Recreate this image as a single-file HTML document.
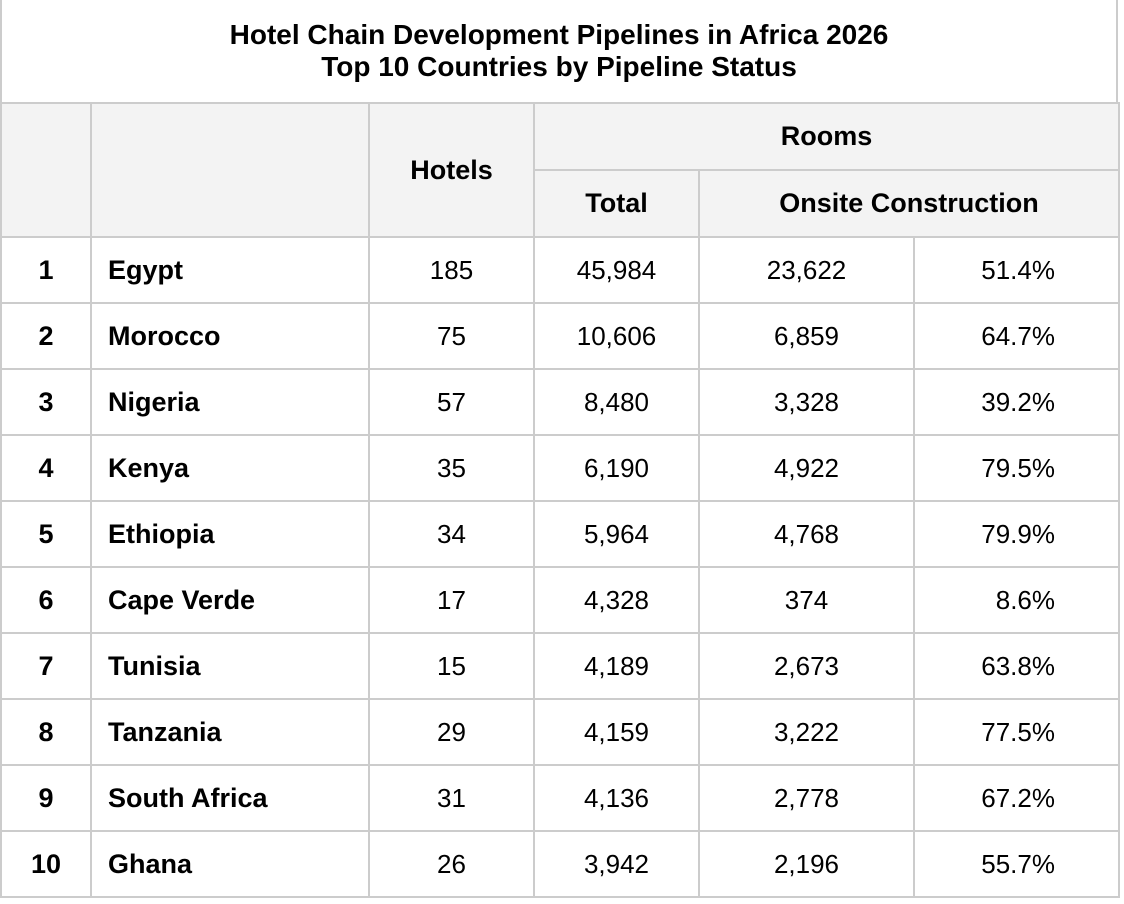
<!DOCTYPE html>
<html><head><meta charset="utf-8"><style>
*{margin:0;padding:0;box-sizing:border-box}
body{width:1124px;height:904px;background:#fff;font-family:"Liberation Sans",Arial,sans-serif;color:#000;position:relative;overflow:hidden}
.title{position:absolute;left:0;top:0;width:1118px;height:104px;border-left:2px solid #ccc;border-right:2px solid #ccc;text-align:center;font-weight:bold;font-size:28px;line-height:32px;padding-top:19px}
table{position:absolute;left:0;top:102px;border-collapse:collapse;table-layout:fixed;width:1118px}
td,th{border:2px solid #ccc;font-size:26px;height:66px;text-align:center;padding:0}
th{background:#f3f3f3;font-weight:bold;font-size:27px}
td.b{font-weight:bold;font-size:27px}
td.l{text-align:left;padding-left:16px;font-weight:bold;font-size:27px}
td.r{text-align:right;padding-right:63px}
</style></head><body>
<div class="title">Hotel Chain Development Pipelines in Africa 2026<br>Top 10 Countries by Pipeline Status</div>
<table>
<colgroup><col style="width:90px"><col style="width:278px"><col style="width:165px"><col style="width:165px"><col style="width:215px"><col style="width:205px"></colgroup>
<tr><th rowspan="2" style="height:134px"></th><th rowspan="2"></th><th rowspan="2">Hotels</th><th colspan="3" style="height:67px">Rooms</th></tr>
<tr><th style="height:67px">Total</th><th colspan="2">Onsite Construction</th></tr>
<tr><td class="b">1</td><td class="l">Egypt</td><td>185</td><td>45,984</td><td>23,622</td><td class="r">51.4%</td></tr>
<tr><td class="b">2</td><td class="l">Morocco</td><td>75</td><td>10,606</td><td>6,859</td><td class="r">64.7%</td></tr>
<tr><td class="b">3</td><td class="l">Nigeria</td><td>57</td><td>8,480</td><td>3,328</td><td class="r">39.2%</td></tr>
<tr><td class="b">4</td><td class="l">Kenya</td><td>35</td><td>6,190</td><td>4,922</td><td class="r">79.5%</td></tr>
<tr><td class="b">5</td><td class="l">Ethiopia</td><td>34</td><td>5,964</td><td>4,768</td><td class="r">79.9%</td></tr>
<tr><td class="b">6</td><td class="l">Cape Verde</td><td>17</td><td>4,328</td><td>374</td><td class="r">8.6%</td></tr>
<tr><td class="b">7</td><td class="l">Tunisia</td><td>15</td><td>4,189</td><td>2,673</td><td class="r">63.8%</td></tr>
<tr><td class="b">8</td><td class="l">Tanzania</td><td>29</td><td>4,159</td><td>3,222</td><td class="r">77.5%</td></tr>
<tr><td class="b">9</td><td class="l">South Africa</td><td>31</td><td>4,136</td><td>2,778</td><td class="r">67.2%</td></tr>
<tr><td class="b">10</td><td class="l">Ghana</td><td>26</td><td>3,942</td><td>2,196</td><td class="r">55.7%</td></tr>
</table>
</body></html>
